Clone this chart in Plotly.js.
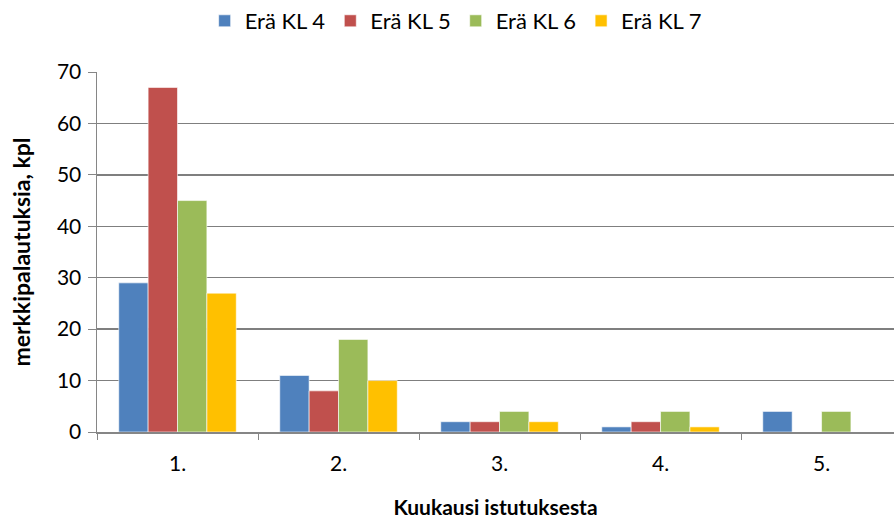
<!DOCTYPE html>
<html><head><meta charset="utf-8">
<script src="https://cdn.plot.ly/plotly-3.0.1.min.js"></script>
<style>body{margin:0;padding:0;background:#fff}#chart{width:894px;height:521px}</style>
</head><body><div id="chart"></div>
<script>
const categories = ["1.", "2.", "3.", "4.", "5."];
const seriesNames = ["Erä KL 4", "Erä KL 5", "Erä KL 6", "Erä KL 7"];
const kl4 = [29, 11, 2, 1, 4];
const kl5 = [67, 8, 2, 2, 0];
const kl6 = [45, 18, 4, 4, 4];
const kl7 = [27, 10, 2, 1, 0];
const colors = ["#4F81BD", "#C0504D", "#9BBB59", "#FFC000"];
const values = [kl4, kl5, kl6, kl7];

const font = "Lato, 'Open Sans', sans-serif";
const traces = values.map((v, i) => ({
  type: "bar", x: categories, y: v, name: seriesNames[i],
  marker: {color: colors[i], line: {color: "#ffffff", width: 0.6}}
}));

Plotly.newPlot("chart", traces, {
  width: 894, height: 521,
  margin: {l: 97, r: 0, t: 72, b: 89},
  barmode: "group", bargap: 0.27, bargroupgap: 0,
  paper_bgcolor: "#fff", plot_bgcolor: "#fff",
  font: {family: font, size: 21, color: "#000"},
  showlegend: true,
  legend: {orientation: "h", x: 0.45, xanchor: "center", y: 1, yref: "container", yanchor: "top",
    font: {size: 22}, itemwidth: 30, traceorder: "normal"},
  xaxis: {type: "category", range: [-0.5, 4.45], tickson: "boundaries",
    ticks: "outside", ticklen: 6, tickcolor: "#868686", tickwidth: 1,
    showline: true, linecolor: "#868686", linewidth: 1.5, showgrid: false,
    tickfont: {size: 21}, ticklabelstandoff: 12,
    title: {text: "<b>Kuukausi istutuksesta</b>", font: {size: 21}, standoff: 26}},
  yaxis: {range: [0, 70], dtick: 10, ticks: "outside", ticklen: 8, tickcolor: "#868686",
    showline: true, linecolor: "#868686", linewidth: 1.5,
    showgrid: true, gridcolor: "#7f7f7f", gridwidth: 1.5, zeroline: false,
    tickfont: {size: 21}, ticklabelstandoff: 2,
    title: {text: "<b>merkkipalautuksia, kpl</b>", font: {size: 23}, standoff: 20}}
}, {staticPlot: true, displayModeBar: false});
</script></body></html>
